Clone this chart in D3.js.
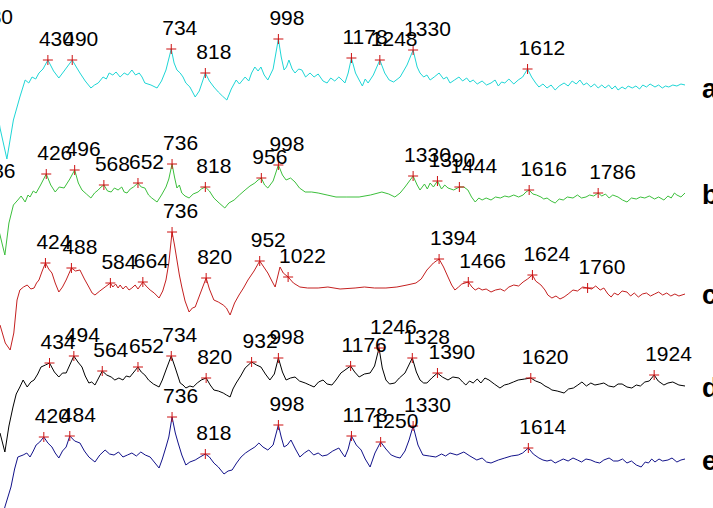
<!DOCTYPE html>
<html>
<head>
<meta charset="utf-8">
<script src="https://cdn.jsdelivr.net/npm/d3@7"></script>
<style>
  body { margin: 0; background: #fff; }
  svg { display: block; }
</style>
</head>
<body>
<div id="chart"></div>
<script>
// stacked spectra a-e, [wavenumber, intensity above own baseline]
var traceA = [[280,49],[312,-41],[329,-72],[345,-33],[361,-10],[374,7],[383,4],[391,10],[400,8],[408,14],[418,18],[430,27],[444,16],[457,9],[470,16],[490,27],[500,20],[509,14],[522,6],[536,-1],[545,2],[554,4],[566,10],[574,8],[581,14],[590,12],[598,15],[608,10],[618,14],[627,12],[637,17],[646,12],[655,14],[662,10],[669,4],[684,2],[699,-1],[710,6],[721,17],[734,38],[741,24],[748,17],[756,14],[763,10],[770,4],[780,0],[793,-10],[803,-4],[818,14],[828,6],[839,0],[850,-5],[860,-9],[871,-13],[882,-2],[894,7],[902,3],[916,10],[925,6],[932,14],[940,20],[948,16],[955,20],[963,12],[972,7],[985,18],[998,48],[1005,30],[1012,17],[1018,20],[1024,27],[1032,18],[1039,14],[1048,18],[1056,17],[1065,10],[1076,14],[1086,10],[1096,13],[1108,6],[1118,4],[1127,9],[1137,6],[1147,10],[1155,7],[1162,4],[1170,14],[1178,29],[1188,14],[1197,7],[1205,1],[1212,8],[1219,4],[1232,12],[1248,27],[1260,14],[1271,7],[1282,5],[1298,10],[1315,22],[1330,37],[1340,20],[1347,14],[1356,10],[1364,12],[1372,7],[1382,10],[1394,14],[1405,8],[1413,10],[1421,4],[1432,7],[1443,10],[1452,6],[1462,9],[1470,5],[1478,7],[1488,3],[1500,6],[1511,2],[1522,4],[1532,7],[1540,1],[1548,5],[1556,4],[1566,8],[1578,3],[1589,7],[1600,10],[1612,18],[1622,10],[1632,4],[1640,0],[1650,3],[1660,-1],[1670,2],[1680,-3],[1690,1],[1702,4],[1712,1],[1722,6],[1732,3],[1741,7],[1750,2],[1758,4],[1768,0],[1777,3],[1786,-1],[1795,2],[1803,-1],[1812,2],[1820,-2],[1828,1],[1835,-3],[1845,0],[1853,-2],[1860,1],[1870,-1],[1879,1],[1888,-2],[1896,2],[1905,0],[1914,3],[1926,0],[1935,2],[1944,-1],[1952,1],[1960,0],[1970,2],[1980,1],[1990,3],[2000,2]];
var traceB = [[286,1],[312,-42],[324,-62],[334,-30],[345,-12],[356,-7],[364,-3],[374,-9],[381,-2],[386,-4],[394,2],[401,0],[412,8],[426,19],[437,8],[448,1],[458,6],[470,5],[484,14],[496,23],[505,10],[514,3],[525,-1],[536,-5],[545,0],[554,3],[561,6],[568,8],[577,2],[586,1],[594,5],[603,3],[612,6],[618,1],[625,0],[633,4],[641,6],[652,10],[660,6],[669,5],[678,-2],[686,-5],[699,-9],[710,-2],[721,6],[728,14],[736,29],[742,16],[748,5],[754,8],[760,0],[768,-3],[778,-5],[788,-1],[800,1],[808,4],[818,6],[828,2],[839,-5],[852,-10],[866,-15],[876,-10],[889,-7],[902,-2],[916,3],[928,7],[940,10],[948,13],[956,15],[964,8],[972,5],[985,12],[998,28],[1008,18],[1017,13],[1028,15],[1039,11],[1050,5],[1064,1],[1080,1],[1096,0],[1118,-2],[1140,-4],[1165,-4],[1197,-4],[1225,-2],[1253,1],[1270,-1],[1285,-4],[1298,0],[1310,6],[1330,17],[1340,8],[1347,3],[1358,9],[1365,4],[1372,10],[1380,6],[1390,12],[1400,4],[1408,8],[1416,5],[1430,3],[1444,6],[1455,6],[1465,3],[1474,-4],[1483,-9],[1492,-5],[1500,-7],[1510,-5],[1522,-7],[1533,-4],[1545,-5],[1556,-3],[1566,-4],[1578,-2],[1590,-4],[1601,-2],[1608,1],[1616,3],[1625,-1],[1634,-2],[1645,-4],[1652,-6],[1660,-5],[1670,-8],[1680,-10],[1690,-6],[1700,-7],[1710,-4],[1724,-5],[1735,-2],[1745,-5],[1756,-4],[1765,-2],[1775,-3],[1786,0],[1795,-3],[1804,-1],[1813,-5],[1822,-2],[1835,-4],[1846,-7],[1857,-9],[1868,-5],[1880,-6],[1890,-4],[1901,-5],[1912,-3],[1925,-6],[1935,-4],[1948,-7],[1958,-3],[1966,-5],[1974,0],[1980,-2],[1990,-4],[2000,0]];
var traceC = [[312,-32],[325,-50],[337,-57],[346,-40],[354,-7],[361,3],[370,6],[379,8],[388,4],[396,5],[402,10],[408,13],[416,22],[424,30],[432,24],[440,20],[448,10],[457,1],[466,6],[475,13],[488,25],[498,22],[509,23],[520,14],[531,6],[539,0],[546,-2],[558,2],[571,6],[584,10],[590,6],[597,9],[603,5],[608,8],[615,4],[622,7],[630,3],[637,5],[645,8],[652,4],[664,11],[672,7],[682,3],[692,0],[704,-5],[713,2],[721,13],[728,30],[736,61],[742,48],[748,33],[754,18],[760,6],[768,-8],[778,-19],[786,-15],[793,-14],[806,0],[820,15],[828,4],[839,-7],[850,-9],[862,-12],[870,-15],[879,-22],[890,-10],[901,-2],[912,5],[923,13],[938,22],[952,32],[962,26],[972,20],[982,12],[990,6],[1002,26],[1010,20],[1022,16],[1035,10],[1051,6],[1070,5],[1096,5],[1120,6],[1150,4],[1187,5],[1210,6],[1235,5],[1263,5],[1290,6],[1315,8],[1337,10],[1350,14],[1364,23],[1380,30],[1394,34],[1405,26],[1416,16],[1425,8],[1433,3],[1442,6],[1450,9],[1466,11],[1475,6],[1483,3],[1492,5],[1500,3],[1510,4],[1522,1],[1533,3],[1545,4],[1555,2],[1566,6],[1578,8],[1590,7],[1601,11],[1612,14],[1624,18],[1632,12],[1645,8],[1655,3],[1662,-2],[1672,-5],[1682,-3],[1692,-6],[1702,-4],[1712,-1],[1724,3],[1735,2],[1748,6],[1760,5],[1770,4],[1780,7],[1791,3],[1800,5],[1810,-1],[1818,-4],[1826,0],[1835,-2],[1845,2],[1857,1],[1866,-3],[1875,0],[1885,-4],[1895,-1],[1905,0],[1915,-3],[1925,-1],[1935,1],[1945,-2],[1955,0],[1965,-3],[1975,-1],[1985,-3],[2000,-1]];
var traceD = [[312,-47],[324,-66],[334,-40],[344,-21],[352,-8],[361,-1],[369,6],[379,-1],[388,4],[396,6],[405,12],[413,19],[424,21],[434,23],[446,14],[457,9],[466,13],[475,13],[485,22],[494,30],[504,24],[514,19],[522,10],[531,3],[538,4],[546,1],[555,8],[564,15],[575,11],[586,9],[595,6],[605,8],[615,6],[623,10],[632,9],[642,14],[652,19],[660,14],[669,11],[678,6],[690,2],[704,-1],[712,6],[721,16],[734,30],[744,18],[756,3],[763,1],[770,-2],[780,0],[788,-1],[798,3],[808,6],[820,8],[830,1],[839,-4],[850,-5],[862,-7],[870,-9],[879,-11],[886,-3],[894,3],[905,10],[916,18],[932,24],[944,21],[955,19],[966,12],[977,6],[988,12],[998,28],[1008,14],[1017,6],[1028,8],[1039,9],[1050,5],[1064,3],[1075,1],[1086,-1],[1097,4],[1108,6],[1118,2],[1130,1],[1140,6],[1152,13],[1176,20],[1186,14],[1197,9],[1210,12],[1224,13],[1235,20],[1246,38],[1254,18],[1263,6],[1272,2],[1285,3],[1296,8],[1310,13],[1328,28],[1338,14],[1347,6],[1356,3],[1364,3],[1376,8],[1390,13],[1402,9],[1416,6],[1428,9],[1443,8],[1452,4],[1460,1],[1469,5],[1478,3],[1488,7],[1497,3],[1507,8],[1517,6],[1530,2],[1544,-2],[1555,1],[1565,2],[1577,4],[1589,6],[1605,7],[1620,8],[1632,5],[1645,3],[1655,0],[1665,-2],[1672,-4],[1685,-5],[1702,-7],[1713,-3],[1725,-2],[1736,1],[1746,4],[1757,0],[1768,3],[1778,1],[1790,2],[1800,3],[1812,0],[1825,-1],[1835,2],[1845,2],[1857,-1],[1869,-2],[1880,1],[1890,0],[1901,4],[1912,5],[1924,11],[1934,5],[1948,1],[1958,3],[1970,4],[1985,1],[2000,0]];
var traceE = [[312,-71],[324,-48],[339,-28],[348,-10],[356,2],[369,4],[378,6],[386,2],[394,8],[401,14],[410,17],[420,22],[430,16],[440,12],[448,6],[457,1],[466,8],[475,12],[484,23],[496,18],[509,16],[520,8],[531,2],[546,-3],[558,4],[571,9],[582,5],[593,4],[604,7],[615,2],[626,4],[637,6],[648,3],[659,7],[670,4],[682,2],[692,-3],[704,-9],[712,0],[721,12],[728,22],[736,42],[744,26],[751,16],[760,4],[770,-6],[780,-3],[793,-1],[805,2],[818,5],[828,2],[839,-4],[850,-8],[864,-15],[874,-12],[884,-11],[895,-4],[906,2],[917,6],[928,9],[940,12],[950,16],[960,12],[972,9],[985,14],[998,34],[1005,22],[1012,12],[1020,14],[1029,19],[1040,10],[1051,2],[1062,6],[1073,9],[1085,4],[1096,6],[1106,3],[1118,4],[1132,8],[1147,11],[1155,6],[1162,2],[1170,10],[1178,23],[1190,14],[1202,9],[1212,0],[1224,-8],[1236,6],[1250,17],[1263,10],[1276,4],[1288,2],[1298,1],[1310,8],[1320,19],[1330,33],[1342,14],[1354,4],[1370,3],[1386,2],[1400,5],[1410,3],[1421,6],[1438,4],[1455,7],[1470,3],[1487,-1],[1500,1],[1511,-3],[1522,-4],[1540,-1],[1556,1],[1572,3],[1589,4],[1600,6],[1614,11],[1626,5],[1640,1],[1650,-1],[1660,-2],[1670,-1],[1680,-4],[1690,-2],[1700,0],[1712,-2],[1724,1],[1735,-1],[1745,-3],[1756,0],[1768,-1],[1779,-3],[1790,-4],[1800,-1],[1813,1],[1824,-2],[1835,-2],[1846,0],[1857,-4],[1868,-2],[1880,-6],[1892,-8],[1902,-3],[1910,-4],[1918,0],[1926,-3],[1936,0],[1945,-2],[1958,-1],[1968,1],[1980,-3],[1990,-1],[2000,0]];

var peaksA = [280, 430, 490, 734, 818, 998, 1178, 1248, 1330, 1612];
var peaksB = [286, 426, 496, 568, 652, 736, 818, 956, 998, 1330, 1390, 1444, 1616, 1786];
var peaksC = [424, 488, 584, 664, 736, 820, 952, 1022, 1394, 1466, 1624, 1760];
var peaksD = [434, 494, 564, 652, 734, 820, 932, 998, 1176, 1246, 1328, 1390, 1620, 1924];
var peaksE = [420, 484, 736, 818, 998, 1178, 1250, 1330, 1614];

var names = ["a", "b", "c", "d", "e"];
var offsets = [421, 315, 215, 122, 49];
var colors = ["#1ed6d6", "#3cbf3c", "#c42020", "#000000", "#12128a"];

var traces = [traceA, traceB, traceC, traceD, traceE];
var peaks = [peaksA, peaksB, peaksC, peaksD, peaksE];

var width = 713, height = 508;

var svg = d3.select("#chart").append("svg")
    .attr("width", width)
    .attr("height", height);

var x = d3.scaleLinear().domain([312, 2000]).range([0, 685]);
var y = d3.scaleLinear().domain([0, 508]).range([508, 0]);

names.forEach(function(name, i) {
    var off = offsets[i];
    var line = d3.line()
        .x(function(d) { return x(d[0]); })
        .y(function(d) { return y(d[1] + off); });

    svg.append("path")
        .datum(traces[i])
        .attr("d", line)
        .attr("fill", "none")
        .attr("stroke", colors[i])
        .attr("stroke-width", 1);

    var pk = peaks[i].map(function(w) {
        var pt = traces[i].find(function(d) { return d[0] === w; });
        return { w: w, v: pt[1] + off };
    });

    // red + markers on the peaks
    var g = svg.append("g").attr("stroke", "#cc1111").attr("stroke-width", 1);
    pk.forEach(function(p) {
        var px = x(p.w), py = y(p.v);
        g.append("line").attr("x1", px - 5).attr("x2", px + 5).attr("y1", py).attr("y2", py);
        g.append("line").attr("x1", px).attr("x2", px).attr("y1", py - 5).attr("y2", py + 5);
    });

    svg.append("g").selectAll("text")
        .data(pk)
        .enter().append("text")
        .attr("x", function(d) { return x(d.w) - 9; })
        .attr("y", function(d) { return y(d.v) - 14.5; })
        .style("font-family", "'Liberation Sans', Arial, sans-serif")
        .style("font-size", "21px")
        .style("fill", "#000")
        .text(function(d) { return d.w; });

    svg.append("text")
        .attr("x", 702)
        .attr("y", y(off) + 11)
        .style("font-family", "'Liberation Sans', Arial, sans-serif")
        .style("font-size", "27px")
        .style("font-weight", "bold")
        .style("fill", "#000")
        .text(name);
});
</script>
</body>
</html>
